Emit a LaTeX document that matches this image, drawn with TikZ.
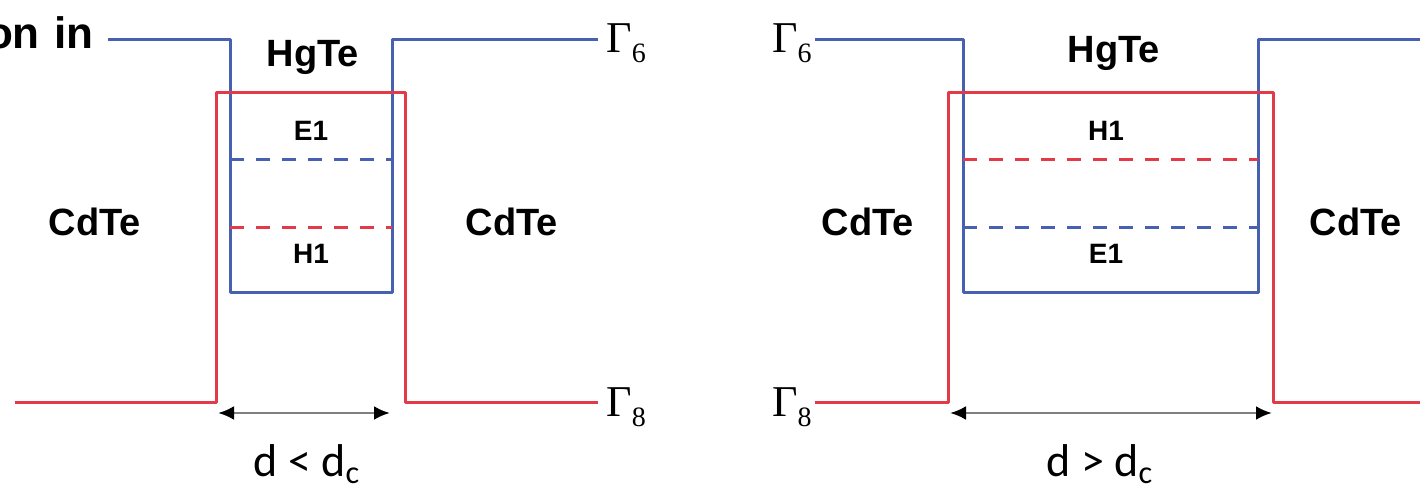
\documentclass[tikz,border=0pt]{standalone}
\usepackage{fontspec}
\setmainfont{Liberation Serif}
\setsansfont{Liberation Sans}
\newfontfamily\calib{Carlito}
\usetikzlibrary{arrows.meta}
\definecolor{bandblue}{RGB}{72,96,178}
\definecolor{bandred}{RGB}{226,58,70}
\newcommand{\gsub}[1]{\raisebox{-0.22em}{\fontsize{14}{15}\selectfont #1}}
\tikzset{
  bluel/.style={draw=bandblue,line width=1.5pt},
  redl/.style={draw=bandred,line width=1.5pt},
  bluedash/.style={draw=bandblue,line width=1.5pt,dash pattern=on 7pt off 6pt},
  reddash/.style={draw=bandred,line width=1.5pt,dash pattern=on 7pt off 6pt},
  lab/.style={font=\sffamily\bfseries\fontsize{19}{21}\selectfont,inner sep=0pt},
  small/.style={font=\sffamily\bfseries\fontsize{14}{16}\selectfont,inner sep=0pt},
  gam/.style={font=\fontsize{22}{24}\selectfont,inner sep=0pt},
  dim/.style={draw=black!50,line width=1.4pt,{Latex[length=8pt,width=7pt,color=black]}-{Latex[length=8pt,width=7pt,color=black]}},
  dlab/.style={font=\calib\fontsize{23}{25}\selectfont,inner sep=0pt}
}
\begin{document}
\begin{tikzpicture}[x=0.5pt,y=-0.5pt]
\useasboundingbox (0,0) rectangle (1420,491);
% caption fragment
\node[anchor=east,font=\sffamily\bfseries\fontsize{22}{24}\selectfont,inner sep=0pt] (cap) at (94,33) {on\,\,in};
% ---------- left diagram ----------
\coordinate (lb0) at (108,40);
\coordinate (lb1) at (230,40);
\coordinate (lb2) at (230,293);
\coordinate (lb3) at (392,293);
\coordinate (lb4) at (392,40);
\coordinate (lb5) at (598,40);
\draw[bluel,line join=round] (lb0) -- (lb1) -- (lb2) -- (lb3) -- (lb4) -- (lb5);
\coordinate (lr0) at (15,403);
\coordinate (lr1) at (216,403);
\coordinate (lr2) at (216,93);
\coordinate (lr3) at (405,93);
\coordinate (lr4) at (405,403);
\coordinate (lr5) at (598,403);
\draw[redl,line join=round] (lr0) -- (lr1) -- (lr2) -- (lr3) -- (lr4) -- (lr5);
\coordinate (le1a) at (230,160); \coordinate (le1b) at (392,160);
\draw[bluedash] (le1a) -- (le1b);
\coordinate (lh1a) at (230,228); \coordinate (lh1b) at (392,228);
\draw[reddash] (lh1a) -- (lh1b);
\node[small] (lE1) at (311,131) {E1};
\node[small] (lH1) at (311,254) {H1};
\node[lab] (lHg) at (313,57) {HgTe};
\node[lab] (lCdL) at (95,222) {CdTe};
\node[lab] (lCdR) at (512,222) {CdTe};
\node[gam,anchor=base west] (lG6) at (606,53) {Γ\gsub{6}};
\node[gam,anchor=base west] (lG8) at (606,417) {Γ\gsub{8}};
\coordinate (lda) at (218,413); \coordinate (ldb) at (390,413);
\draw[dim] (lda) -- (ldb);
\node[dlab] (ld) at (307,464) {d < d\textsubscript{c}};
% ---------- right diagram ----------
\coordinate (rb0) at (815,40);
\coordinate (rb1) at (963,40);
\coordinate (rb2) at (963,293);
\coordinate (rb3) at (1258,293);
\coordinate (rb4) at (1258,40);
\coordinate (rb5) at (1420,40);
\draw[bluel,line join=round] (rb0) -- (rb1) -- (rb2) -- (rb3) -- (rb4) -- (rb5);
\coordinate (rr0) at (815,403);
\coordinate (rr1) at (948,403);
\coordinate (rr2) at (948,93);
\coordinate (rr3) at (1273,93);
\coordinate (rr4) at (1273,403);
\coordinate (rr5) at (1420,403);
\draw[redl,line join=round] (rr0) -- (rr1) -- (rr2) -- (rr3) -- (rr4) -- (rr5);
\coordinate (rh1a) at (963,160); \coordinate (rh1b) at (1258,160);
\draw[reddash] (rh1a) -- (rh1b);
\coordinate (re1a) at (963,228); \coordinate (re1b) at (1258,228);
\draw[bluedash] (re1a) -- (re1b);
\node[small] (rH1) at (1106,131) {H1};
\node[small] (rE1) at (1106,254) {E1};
\node[lab] (rHg) at (1114,53) {HgTe};
\node[lab] (rCdL) at (868,222) {CdTe};
\node[lab] (rCdR) at (1356,222) {CdTe};
\node[gam,anchor=base east] (rG6) at (812,53) {Γ\gsub{6}};
\node[gam,anchor=base east] (rG8) at (812,417) {Γ\gsub{8}};
\coordinate (rda) at (950,413); \coordinate (rdb) at (1272,413);
\draw[dim] (rda) -- (rdb);
\node[dlab] (rd) at (1100,464) {d > d\textsubscript{c}};
\end{tikzpicture}
\end{document}
